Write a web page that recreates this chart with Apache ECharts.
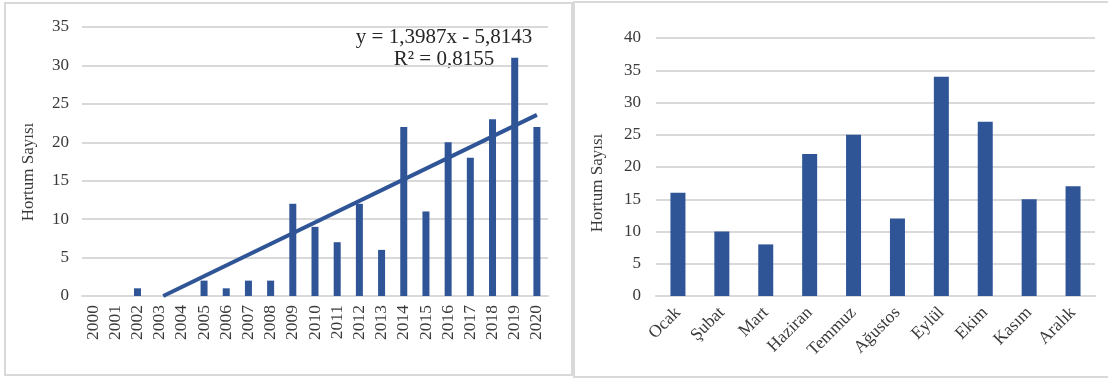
<!DOCTYPE html>
<html>
<head>
<meta charset="utf-8">
<script src="https://cdn.jsdelivr.net/npm/echarts@6/dist/echarts.min.js"></script>
<style>
html,body{margin:0;padding:0;background:#fff;}
#c{width:1108px;height:383px;}
</style>
</head>
<body>
<div id="c"></div>
<script>
// ---- data ----
const years = ['2000','2001','2002','2003','2004','2005','2006','2007','2008','2009','2010','2011','2012','2013','2014','2015','2016','2017','2018','2019','2020'];
const yearCounts = [0,0,1,0,0,2,1,2,2,12,9,7,12,6,22,11,20,18,23,31,22];
// trend line end points (category index, value): y = 1,3987x - 5,8143
const trendLine = [[3.16, 0], [20, 23.56]];
const trendEq = 'y = 1,3987x - 5,8143';
const trendR2 = 'R² = 0,8155';
const months = ['Ocak','Şubat','Mart','Haziran','Temmuz','Ağustos','Eylül','Ekim','Kasım','Aralık'];
const monthCounts = [16,10,8,22,25,12,34,27,15,17];
const leftTicks = [0,5,10,15,20,25,30,35];
const rightTicks = [0,5,10,15,20,25,30,35,40];
const yName = 'Hortum Sayısı';

// ---- chart ----
const FONT = '"Liberation Serif", "DejaVu Serif", serif';
const TXT = '#3a3a3a';
const GRIDC = '#d9d9d9';
const BAR = '#2F5597';

const chart = echarts.init(document.getElementById('c'));
chart.setOption({
  animation: false,
  textStyle: {fontFamily: FONT},
  grid: [
    {left: 82, right: 1108 - 548, top: 27, bottom: 383 - 296},
    {left: 656, right: 1108 - 1095, top: 38, bottom: 383 - 296}
  ],
  xAxis: [
    {
      type: 'category', gridIndex: 0, data: years,
      axisTick: {show: false},
      axisLine: {lineStyle: {color: GRIDC, width: 2}},
      axisLabel: {rotate: 90, interval: 0, margin: 9, color: TXT, fontSize: 17.5, fontFamily: FONT}
    },
    {
      type: 'category', gridIndex: 1, data: months,
      axisTick: {show: false},
      axisLine: {lineStyle: {color: GRIDC, width: 2}},
      axisLabel: {rotate: 45, interval: 0, margin: 14, color: TXT, fontSize: 17.5, fontFamily: FONT}
    },
    {
      type: 'value', gridIndex: 0, min: -0.5, max: years.length - 0.5, show: false
    }
  ],
  yAxis: [
    {
      type: 'value', gridIndex: 0, min: leftTicks[0], max: leftTicks[leftTicks.length - 1], interval: 5,
      axisLine: {show: false}, axisTick: {show: false},
      splitLine: {lineStyle: {color: GRIDC, width: 2}},
      axisLabel: {margin: 13, color: TXT, fontSize: 17, fontFamily: FONT}
    },
    {
      type: 'value', gridIndex: 1, min: rightTicks[0], max: rightTicks[rightTicks.length - 1], interval: 5,
      axisLine: {show: false}, axisTick: {show: false},
      splitLine: {lineStyle: {color: GRIDC, width: 2}},
      axisLabel: {margin: 15, color: TXT, fontSize: 17, fontFamily: FONT}
    }
  ],
  series: [
    {
      type: 'bar', xAxisIndex: 0, yAxisIndex: 0, data: yearCounts,
      barWidth: 7, itemStyle: {color: BAR}
    },
    {
      type: 'line', xAxisIndex: 2, yAxisIndex: 0, data: trendLine,
      symbol: 'none', z: 5, lineStyle: {color: BAR, width: 4}
    },
    {
      type: 'bar', xAxisIndex: 1, yAxisIndex: 1, data: monthCounts,
      barWidth: 15, itemStyle: {color: BAR}
    }
  ],
  graphic: [
    {type: 'rect', shape: {x: 5, y: 3, width: 567, height: 372}, style: {fill: 'none', stroke: GRIDC, lineWidth: 2}, silent: true},
    {type: 'rect', shape: {x: 574, y: 2, width: 560, height: 375}, style: {fill: 'none', stroke: GRIDC, lineWidth: 2}, silent: true},
    {type: 'text', x: 444, y: 37, style: {text: trendEq, font: '21px ' + FONT, fill: '#262626', align: 'center', verticalAlign: 'middle'}},
    {type: 'text', x: 444, y: 59, style: {text: trendR2, font: '21px ' + FONT, fill: '#262626', align: 'center', verticalAlign: 'middle'}},
    {type: 'text', x: 29, y: 172, rotation: Math.PI / 2, style: {text: yName, font: '17px ' + FONT, fill: TXT, align: 'center', verticalAlign: 'middle'}},
    {type: 'text', x: 598, y: 183, rotation: Math.PI / 2, style: {text: yName, font: '17px ' + FONT, fill: TXT, align: 'center', verticalAlign: 'middle'}}
  ]
});
</script>
</body>
</html>
